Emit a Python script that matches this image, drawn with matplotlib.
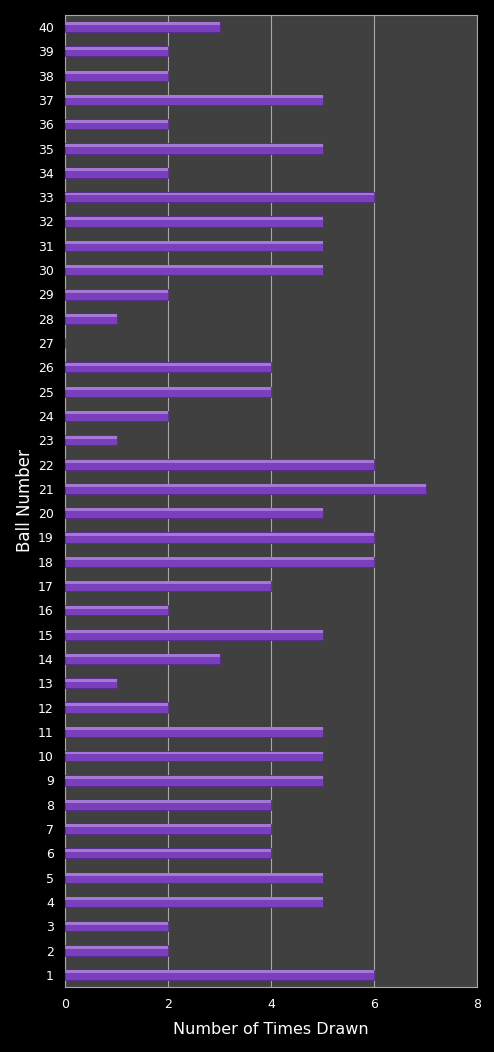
import numpy as np
import matplotlib.pyplot as plt

# Ball numbers 1..40 and how often each was drawn
balls = list(range(1, 41))
times_drawn = [6, 2, 2, 5, 5, 4, 4, 4, 5, 5,
               5, 2, 1, 3, 5, 2, 4, 6, 6, 5,
               7, 6, 1, 2, 4, 4, 0, 1, 2, 5,
               5, 5, 6, 2, 5, 2, 5, 2, 2, 3]
x_ticks = [0, 2, 4, 6, 8]

bg = "#000000"
plot_bg = "#404040"
grid_col = "#a8a8a8"
bar_col = "#7a3fbd"
hi_col = "#a577d6"
edge_col = "#5a2a90"

fig = plt.figure(figsize=(4.94, 10.52), dpi=100, facecolor=bg)
ax = fig.add_axes([0.1316, 0.0618, 0.834, 0.924])
ax.set_facecolor(plot_bg)

h = 0.42
ax.barh(balls, times_drawn, height=h, color=bar_col, edgecolor=edge_col,
        linewidth=0.6, zorder=3)
# lighter strip along the top of each bar, for the bevelled look
ax.barh(np.array(balls) + h / 2 - 0.08, times_drawn, height=0.12,
        color=hi_col, linewidth=0, zorder=4)

ax.set_xlim(0, 8)
ax.set_ylim(0.5, 40.5)
ax.set_xticks(x_ticks)
ax.set_yticks(balls)
ax.xaxis.grid(True, color=grid_col, linewidth=0.8, zorder=1)
ax.set_axisbelow(True)

for s in ax.spines.values():
    s.set_color(grid_col)
    s.set_linewidth(0.8)

ax.tick_params(colors="white", labelsize=9, length=0, pad=8)
ax.set_xlabel("Number of Times Drawn", color="white", fontsize=11.5, labelpad=8)
ax.set_ylabel("Ball Number", color="white", fontsize=12, labelpad=3)

fig.savefig("out.png", dpi=100, facecolor=bg)
